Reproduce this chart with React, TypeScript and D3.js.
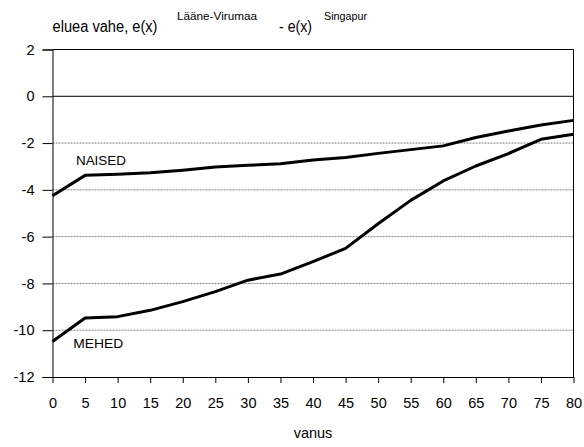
import {useEffect, useRef} from 'react';
import * as d3 from 'd3';

const ages = [0, 5, 10, 15, 20, 25, 30, 35, 40, 45, 50, 55, 60, 65, 70, 75, 80];
const naised = [-4.25, -3.38, -3.33, -3.27, -3.16, -3.02, -2.95, -2.88, -2.72, -2.62, -2.44, -2.28, -2.12, -1.76, -1.48, -1.23, -1.03];
const mehed = [-10.48, -9.48, -9.42, -9.15, -8.78, -8.35, -7.86, -7.6, -7.07, -6.5, -5.45, -4.45, -3.62, -2.98, -2.45, -1.84, -1.62];
const yTicks = [2, 0, -2, -4, -6, -8, -10, -12];
const seriesLabels = ['NAISED', 'MEHED'];

const App = () => {
    const ref = useRef(null);

    useEffect(() => {
        const width = 584;
        const height = 447;
        const margin = {top: 49.5, right: 10.5, bottom: 70, left: 52.5};
        const font = '"Liberation Sans", Arial, sans-serif';

        d3.select(ref.current).selectAll('svg').remove();

        const svg = d3.select(ref.current)
            .append('svg')
            .attr('width', width)
            .attr('height', height)
            .style('position', 'absolute')
            .style('left', 0)
            .style('top', 0)
            .style('font-family', font);

        const x = d3.scaleLinear().domain([0, 80]).range([margin.left, width - margin.right]);
        const y = d3.scaleLinear().domain([-12, 2]).range([height - margin.bottom, margin.top]);

        // gridlines
        svg.append('g')
            .selectAll('line')
            .data(yTicks.filter(d => d !== 0 && d !== 2 && d !== -12))
            .enter().append('line')
            .attr('x1', x(0)).attr('x2', x(80))
            .attr('y1', d => y(d)).attr('y2', d => y(d))
            .attr('stroke', '#808080')
            .attr('stroke-width', 1)
            .attr('stroke-dasharray', '2,1');

        // zero line, top border, right border
        svg.append('line')
            .attr('x1', x(0)).attr('x2', x(80))
            .attr('y1', y(0)).attr('y2', y(0))
            .attr('stroke', 'black').attr('stroke-width', 1);
        svg.append('line')
            .attr('x1', x(0)).attr('x2', x(80))
            .attr('y1', y(2)).attr('y2', y(2))
            .attr('stroke', 'black').attr('stroke-width', 1);
        svg.append('line')
            .attr('x1', x(80)).attr('x2', x(80))
            .attr('y1', y(2)).attr('y2', y(-12))
            .attr('stroke', 'black').attr('stroke-width', 1);

        // y axis
        const yAxis = d3.axisLeft(y).tickValues(yTicks).tickSize(10).tickPadding(8).tickFormat(d3.format('d'));
        const gy = svg.append('g')
            .attr('transform', `translate(${x(0)},0)`)
            .call(yAxis);
        gy.select('.domain').attr('stroke', 'black');
        gy.selectAll('text')
            .style('font-family', font)
            .style('font-size', '14.5px')
            .attr('fill', 'black')
            .text(d => (d as number) < 0 ? '-' + Math.abs(d as number) : String(d));

        // x axis
        const xAxis = d3.axisBottom(x).tickValues(ages).tickSizeInner(6).tickSizeOuter(0).tickPadding(15);
        const gx = svg.append('g')
            .attr('transform', `translate(0,${y(-12)})`)
            .call(xAxis);
        gx.selectAll('text')
            .style('font-family', font)
            .style('font-size', '14.5px')
            .attr('fill', 'black');

        // lines
        const line = d3.line<number>()
            .x((_, i) => x(ages[i]))
            .y(d => y(d));

        [naised, mehed].forEach(series => {
            svg.append('path')
                .datum(series)
                .attr('d', line)
                .attr('fill', 'none')
                .attr('stroke', 'black')
                .attr('stroke-width', 3)
                .attr('stroke-linejoin', 'round');
        });

        // series labels
        svg.append('text')
            .attr('x', x(3.6)).attr('y', y(-2.95))
            .style('font-size', '13.5px')
            .attr('textLength', 50)
            .attr('lengthAdjust', 'spacingAndGlyphs')
            .text(seriesLabels[0]);
        svg.append('text')
            .attr('x', x(3.2)).attr('y', y(-10.75))
            .style('font-size', '13.5px')
            .attr('textLength', 50)
            .attr('lengthAdjust', 'spacingAndGlyphs')
            .text(seriesLabels[1]);

        // title
        svg.append('text').attr('x', 52.5).attr('y', 31.5).style('font-size', '16px')
            .attr('textLength', 105).attr('lengthAdjust', 'spacingAndGlyphs').text('eluea vahe, e(x)');
        svg.append('text').attr('x', 177).attr('y', 20).style('font-size', '11.5px')
            .attr('textLength', 80).attr('lengthAdjust', 'spacingAndGlyphs').text('Lääne-Virumaa');
        svg.append('text').attr('x', 279).attr('y', 31.5).style('font-size', '16px')
            .attr('textLength', 33).attr('lengthAdjust', 'spacingAndGlyphs').text('- e(x)');
        svg.append('text').attr('x', 324).attr('y', 20).style('font-size', '11.5px')
            .attr('textLength', 43).attr('lengthAdjust', 'spacingAndGlyphs').text('Singapur');

        // x axis title
        svg.append('text')
            .attr('x', x(40)).attr('y', 438)
            .attr('text-anchor', 'middle')
            .style('font-size', '14.5px')
            .text('vanus');
    }, []);

    return <div ref={ref}></div>;
};

export default App;
